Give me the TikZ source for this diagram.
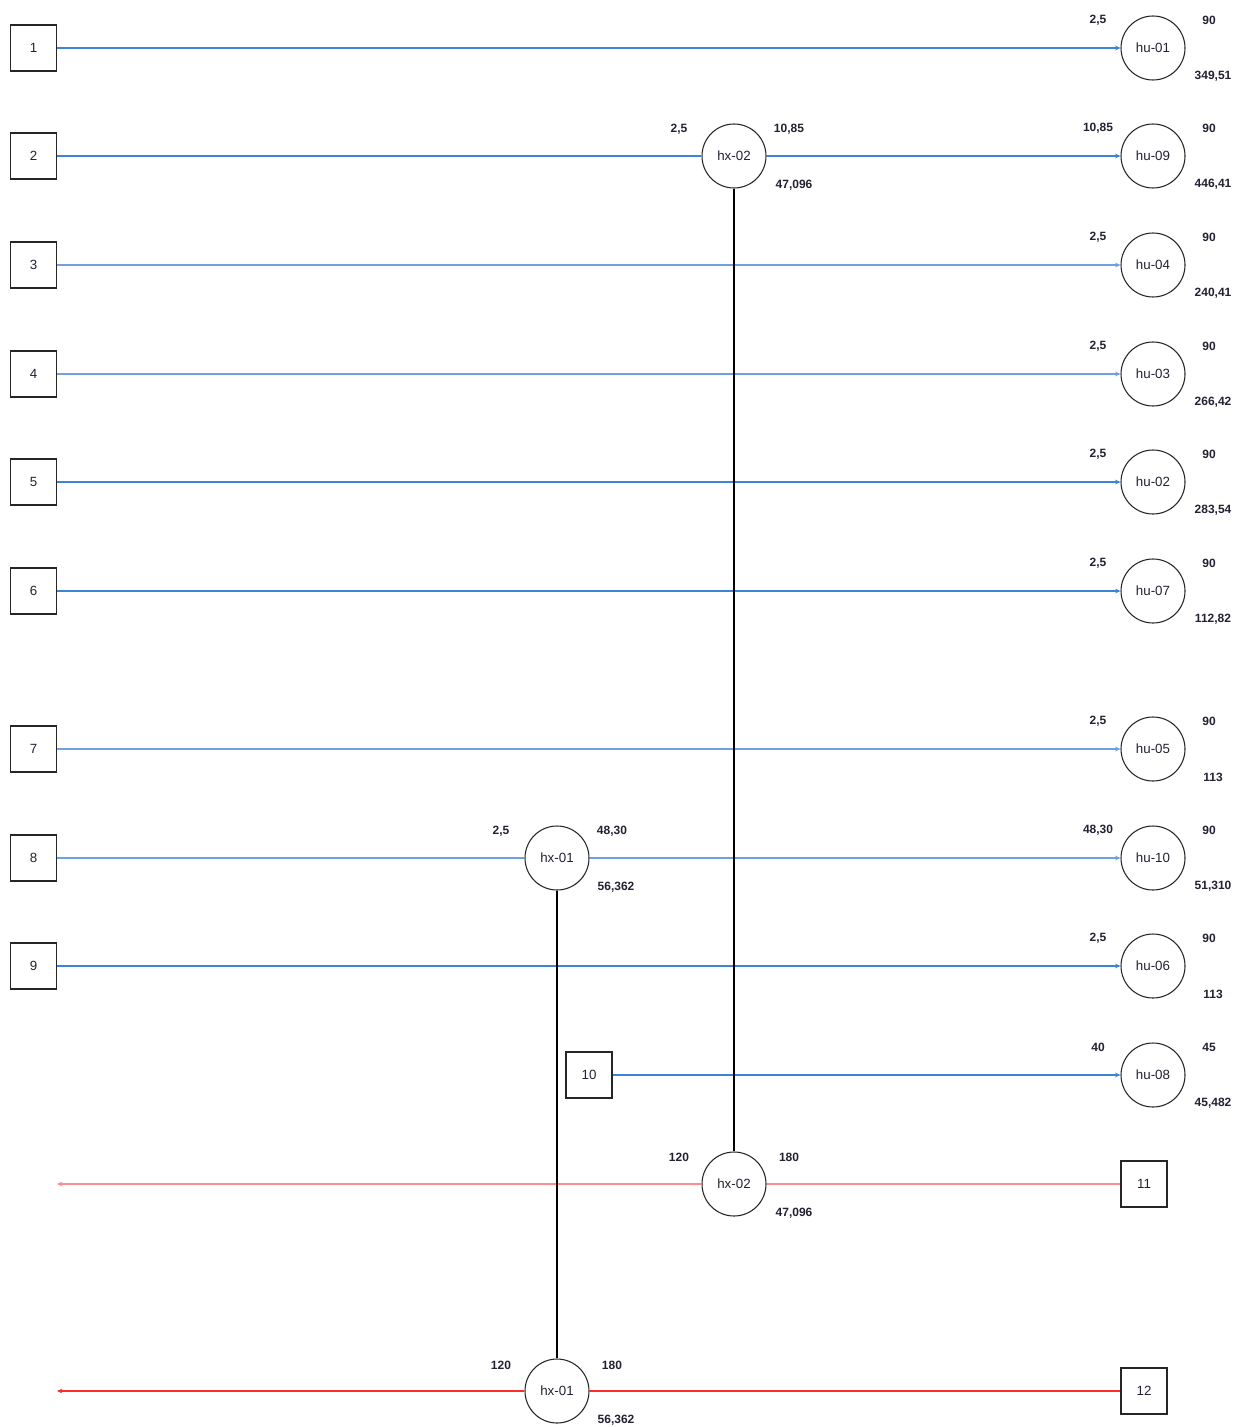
\documentclass[tikz,border=0pt]{standalone}
\usepackage{fontspec}
\setmainfont{Liberation Sans}
\usetikzlibrary{arrows.meta}
\definecolor{flowblue}{HTML}{3C84D6}
\definecolor{flowlight}{HTML}{6FA0E2}
\definecolor{hotred}{HTML}{FF2A2A}
\definecolor{hotpink}{HTML}{FF8C8C}
\definecolor{txt}{HTML}{222233}
\tikzset{
  srcbox/.style={draw=black!85, line width=1.1pt, minimum size=34.5pt, inner sep=0pt, fill=white, font=\fontsize{10}{12}\selectfont, text=txt},
  unit/.style={draw=black!85, circle, line width=0.8pt, minimum size=48pt, inner sep=0pt, fill=white, font=\fontsize{10}{12}\selectfont, text=txt},
  val/.style={font=\fontsize{9}{11}\selectfont\bfseries, text=txt, inner sep=0pt},
  cold/.style={draw=flowblue, line width=1.2pt},
  coldl/.style={draw=flowlight, line width=1.2pt},
  tip/.style={-{Stealth[length=4pt,width=3.5pt]}},
  hot/.style={draw=hotred, line width=1.3pt},
  hotl/.style={draw=hotpink, line width=1.3pt},
  link/.style={draw=black, line width=0.9pt}
}
% a heat unit with its inlet, target and load values
\newcommand{\heatunit}[6]{%
  \node[unit] (#1) at (1153,#3) {#2};
  \node[val] at (1098,#3-28) {#4};
  \node[val] at (1209,#3-28) {#5};
  \node[val] at (1213,#3+28) {#6};
}
\begin{document}
\begin{tikzpicture}[x=0.75pt, y=-0.75pt]
\useasboundingbox (0,0) rectangle (1237,1427);

% source boxes
\foreach \n/\y in {1/48, 2/156, 3/265, 4/374, 5/482, 6/591, 7/749, 8/858, 9/966}
  \node[srcbox] (s\n) at (33.5,\y) {\n};
\node[srcbox] (s10) at (589,1075) {10};
\node[srcbox] (s11) at (1144,1184) {11};
\node[srcbox] (s12) at (1144,1391) {12};

% heat units on the right
\heatunit{hu1}{hu-01}{48}{2,5}{90}{349,51}
\heatunit{hu9}{hu-09}{156}{10,85}{90}{446,41}
\heatunit{hu4}{hu-04}{265}{2,5}{90}{240,41}
\heatunit{hu3}{hu-03}{374}{2,5}{90}{266,42}
\heatunit{hu2}{hu-02}{482}{2,5}{90}{283,54}
\heatunit{hu7}{hu-07}{591}{2,5}{90}{112,82}
\heatunit{hu5}{hu-05}{749}{2,5}{90}{113}
\heatunit{hu10}{hu-10}{858}{48,30}{90}{51,310}
\heatunit{hu6}{hu-06}{966}{2,5}{90}{113}
\heatunit{hu8}{hu-08}{1075}{40}{45}{45,482}

% exchangers
\node[unit] (hxa) at (734,156) {hx-02};
\node[unit] (hxb) at (734,1184) {hx-02};
\node[unit] (hxc) at (557,858) {hx-01};
\node[unit] (hxd) at (557,1391) {hx-01};

\node[val] at (679,129) {2,5};
\node[val] at (789,129) {10,85};
\node[val] at (794,185) {47,096};
\node[val] at (679,1157) {120};
\node[val] at (789,1157) {180};
\node[val] at (794,1213) {47,096};
\node[val] at (501,831) {2,5};
\node[val] at (612,831) {48,30};
\node[val] at (616,887) {56,362};
\node[val] at (501,1365) {120};
\node[val] at (612,1365) {180};
\node[val] at (616,1420) {56,362};

% hot stream ends
\coordinate (h11) at (57,1184);
\coordinate (h12) at (57,1391);

% cold streams
\draw[cold,tip] (s1) -- (hu1);
\draw[cold] (s2) -- (hxa);
\draw[cold,tip] (hxa) -- (hu9);
\draw[coldl,tip] (s3) -- (hu4);
\draw[coldl,tip] (s4) -- (hu3);
\draw[cold,tip] (s5) -- (hu2);
\draw[cold,tip] (s6) -- (hu7);
\draw[coldl,tip] (s7) -- (hu5);
\draw[coldl] (s8) -- (hxc);
\draw[coldl,tip] (hxc) -- (hu10);
\draw[cold,tip] (s9) -- (hu6);
\draw[cold,tip] (s10) -- (hu8);

% hot streams
\draw[hotl] (s11) -- (hxb);
\draw[hotl,tip] (hxb) -- (h11);
\draw[hot] (s12) -- (hxd);
\draw[hot,tip] (hxd) -- (h12);

% exchanger matches
\draw[link] (hxa) -- (hxb);
\draw[link] (hxc) -- (hxd);
\end{tikzpicture}
\end{document}
